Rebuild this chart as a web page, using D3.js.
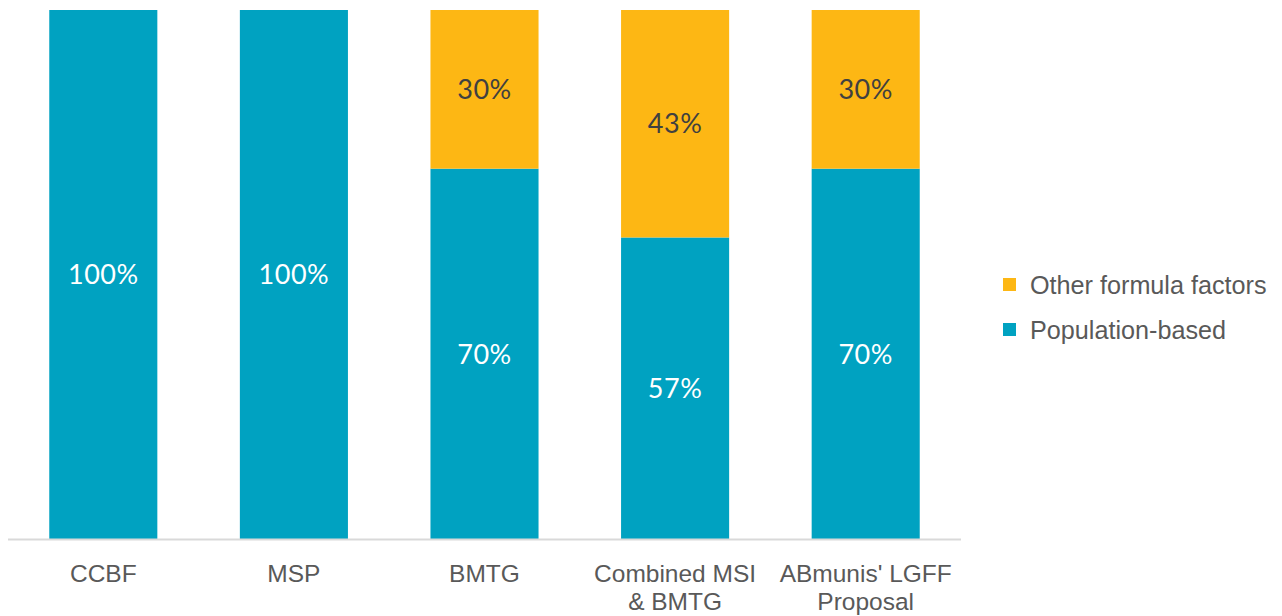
<!DOCTYPE html>
<html><head><meta charset="utf-8">
<script src="https://cdn.jsdelivr.net/npm/d3@7"></script>
<style>body{margin:0;background:#fff;}svg{display:block;}</style>
</head><body>
<svg id="c" width="1282" height="616"></svg>
<script>
const categories = [["CCBF"],["MSP"],["BMTG"],["Combined MSI","& BMTG"],["ABmunis' LGFF","Proposal"]];
const populationBased = [100, 100, 70, 57, 70];
const otherFactors = [0, 0, 30, 43, 30];
const seriesNames = ["Other formula factors", "Population-based"];
const colors = {pop: "#00A2C1", other: "#FDB714"};

const svg = d3.select("#c");
const keys = categories.map(c => c.join(" "));
const x = d3.scaleBand().domain(keys).range([8, 961]).paddingInner(0.433).paddingOuter(0.2165);
const y = d3.scaleLinear().domain([0, 100]).range([539, 10]);

const rows = keys.map((k, i) => ({k, pop: populationBased[i], other: otherFactors[i]}));
const stack = d3.stack().keys(["pop", "other"])(rows);

stack.forEach(layer => {
  svg.append("g").selectAll("rect").data(layer).join("rect")
    .attr("x", d => x(d.data.k))
    .attr("width", x.bandwidth())
    .attr("y", d => y(d[1]))
    .attr("height", d => y(d[0]) - y(d[1]))
    .attr("fill", colors[layer.key]);
  svg.append("g").selectAll("text").data(layer.filter(d => d[1] - d[0] > 0)).join("text")
    .attr("x", d => x(d.data.k) + x.bandwidth() / 2)
    .attr("y", d => (y(d[0]) + y(d[1])) / 2)
    .attr("dy", "0.36em")
    .attr("text-anchor", "middle")
    .attr("font-family", "Lato, 'Liberation Sans', sans-serif")
    .attr("font-size", 27)
    .attr("letter-spacing", 0.5)
    .attr("fill", layer.key === "pop" ? "#ffffff" : "#404040")
    .text(d => (d[1] - d[0]) + "%");
});

// axis line
svg.append("line").attr("x1", 8).attr("x2", 961).attr("y1", 539.5).attr("y2", 539.5)
  .attr("stroke", "#d9d9d9").attr("stroke-width", 2);

// category labels
const cat = svg.append("g").selectAll("text").data(categories).join("text")
  .attr("x", (d, i) => x(keys[i]) + x.bandwidth() / 2)
  .attr("y", 582)
  .attr("text-anchor", "middle")
  .attr("font-family", "'Liberation Sans', Arial, sans-serif")
  .attr("font-size", 24.5)
  .attr("fill", "#595959");
cat.selectAll("tspan").data(d => d).join("tspan")
  .attr("x", function() { return this.parentNode.getAttribute("x"); })
  .attr("dy", (d, i) => i === 0 ? 0 : 28)
  .text(d => d);

// legend
const leg = svg.append("g");
const legItems = [{name: seriesNames[0], c: colors.other}, {name: seriesNames[1], c: colors.pop}];
legItems.forEach((it, i) => {
  const yy = 285 + i * 45;
  leg.append("rect").attr("x", 1003).attr("y", yy - 7).attr("width", 13).attr("height", 13).attr("fill", it.c);
  leg.append("text").attr("x", 1030).attr("y", yy).attr("dy", "0.35em")
    .attr("font-family", "'Liberation Sans', Arial, sans-serif")
    .attr("font-size", 25.2).attr("fill", "#595959").text(it.name);
});
</script>
</body></html>
